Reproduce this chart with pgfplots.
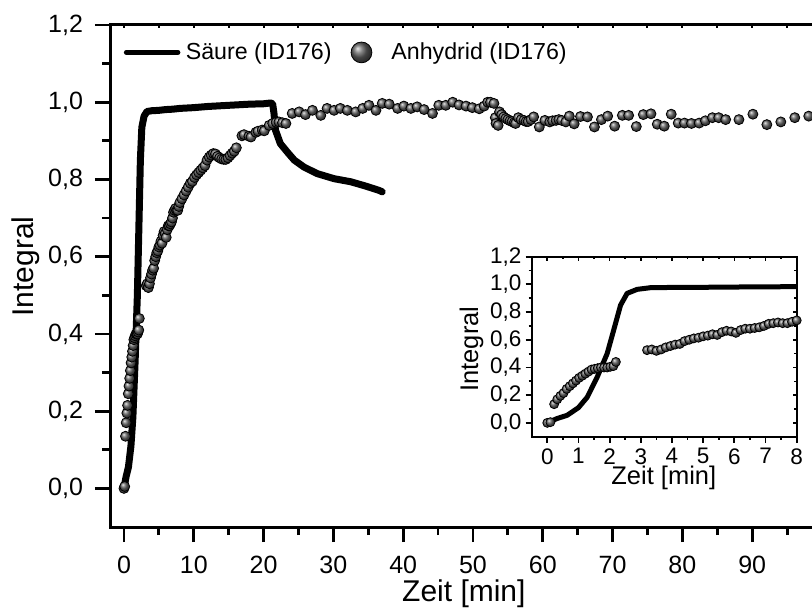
\documentclass[border=0pt]{standalone}
\usepackage{fontspec}
\setmainfont{Liberation Sans}
\usepackage{pgfplots}
\usepackage{pgfplotstable}
\pgfplotsset{compat=1.18}
\pgfplotsset{
  linelegend/.style={legend image code/.code={\path (0pt,0pt) (27.5pt,0pt); \draw[black, line width=2.5pt, line cap=round] (0.5pt,0pt) -- (26.25pt,0pt);}},
  balllegend/.style={legend image code/.code={\path (0pt,0pt) (27.5pt,0pt); \draw[mark repeat=1, mark phase=1, ##1, mark size=5.2pt] plot coordinates {(13.75pt,0pt)};}},
}

\pgfplotstableread{
x y
0 0
0.3 0.03
0.64 0.055
1.0 0.11
1.28 0.185
1.6 0.33
1.92 0.5
2.13 0.67
2.35 0.85
2.56 0.935
2.88 0.964
3.3 0.976
4 0.978
5 0.979
6 0.981
7 0.982
8 0.984
10 0.986
12 0.989
14 0.991
16 0.993
18 0.995
20 0.996
21 0.998
21.3 0.996
21.5 0.97
21.7 0.928
22.4 0.893
23.4 0.871
24.4 0.85
25.8 0.832
27.7 0.815
30.1 0.802
32.5 0.794
34.6 0.783
36.5 0.772
37 0.768
}\saeure

\pgfplotstableread{
x y
0 0.0
0.1 0.005
0.22 0.135
0.32 0.17
0.42 0.195
0.52 0.215
0.62 0.245
0.72 0.265
0.82 0.285
0.92 0.305
1.02 0.325
1.12 0.34
1.22 0.355
1.32 0.37
1.42 0.385
1.52 0.39
1.62 0.395
1.72 0.40
1.82 0.40
1.92 0.40
2.02 0.405
2.12 0.41
2.2 0.44
3.2 0.525
3.35 0.53
3.5 0.52
3.65 0.53
3.8 0.545
3.95 0.555
4.1 0.565
4.25 0.57
4.4 0.59
4.55 0.6
4.7 0.61
4.85 0.615
5.0 0.625
5.15 0.63
5.3 0.64
5.45 0.635
5.6 0.655
5.75 0.665
5.9 0.66
6.05 0.65
6.2 0.67
6.35 0.68
6.5 0.68
6.65 0.685
6.8 0.69
6.95 0.70
7.1 0.715
7.25 0.72
7.4 0.725
7.55 0.72
7.7 0.72
7.85 0.73
8.0 0.74
8.3 0.75
8.6 0.76
8.9 0.77
9.2 0.78
9.5 0.79
9.8 0.795
10.1 0.805
10.4 0.812
10.7 0.818
11.0 0.824
11.3 0.83
11.6 0.836
11.9 0.85
12.2 0.858
12.5 0.863
12.8 0.867
13.1 0.866
13.4 0.86
13.7 0.856
14.0 0.853
14.3 0.852
14.6 0.852
14.9 0.856
15.2 0.862
15.5 0.868
15.8 0.873
16.1 0.882
16.9 0.913
17.2 0.916
17.9 0.912
18.2 0.91
18.9 0.922
19.2 0.925
19.8 0.928
20.1 0.926
20.8 0.94
21.3 0.945
21.8 0.948
22.2 0.949
22.7 0.947
23.2 0.945
24.1 0.971
25.1 0.975
26.0 0.968
27.0 0.979
28.2 0.966
29.1 0.984
30.1 0.979
31.0 0.984
32.0 0.979
33.2 0.975
34.2 0.984
35.1 0.992
36.1 0.979
37.0 0.997
38.0 0.995
39.2 0.984
40.1 0.99
41.1 0.984
42.0 0.988
43.0 0.981
44.2 0.971
45.1 0.992
46.1 0.992
47.1 1.0
48.0 0.993
49.0 0.99
49.9 0.986
50.9 0.983
51.6 0.99
52.1 1.0
52.5 1.0
53.0 0.997
53.2 0.96
53.3 0.945
53.6 0.94
53.8 0.975
54.1 0.968
54.4 0.962
54.7 0.958
55.0 0.955
55.3 0.952
55.6 0.95
55.9 0.947
56.1 0.945
56.5 0.96
56.9 0.955
57.3 0.953
57.6 0.95
57.9 0.95
58.3 0.955
58.7 0.962
59.5 0.936
60.3 0.953
61.0 0.949
61.4 0.952
61.9 0.953
62.3 0.955
62.7 0.953
63.3 0.949
63.8 0.964
64.5 0.944
65.4 0.963
66.4 0.962
67.4 0.936
68.4 0.955
69.3 0.964
70.3 0.938
71.4 0.966
72.3 0.966
73.4 0.937
74.4 0.968
75.5 0.97
76.4 0.943
77.4 0.938
78.4 0.969
79.4 0.946
80.3 0.946
81.3 0.945
82.4 0.946
83.3 0.952
84.3 0.96
85.2 0.96
86.2 0.955
88.1 0.955
90.1 0.969
92.1 0.942
94.1 0.949
96.1 0.96
98.1 0.964
}\anhydrid

\begin{document}
\begin{tikzpicture}
\useasboundingbox (0pt,0pt) rectangle (406pt,-304pt);
% ---------- main axis ----------
\begin{axis}[
  at={(55pt,-263.5pt)}, anchor=south west,
  scale only axis, width=356pt, height=251pt,
  xmin=-2, xmax=100, ymin=-0.1, ymax=1.2,
  axis lines*=left,
  axis line style={line width=1.5pt, line cap=rect},
  tick align=outside,
  major tick length=7.5pt, minor tick length=4pt,
  tick style={line width=1.4pt, black},
  xtick={0,10,20,30,40,50,60,70,80,90},
  minor xtick={5,15,25,35,45,55,65,75,85,95},
  ytick={0,0.2,0.4,0.6,0.8,1.0,1.2},
  minor ytick={0.1,0.3,0.5,0.7,0.9,1.1},
  /pgf/number format/assume math mode=true,
  tick label style={font=\fontsize{12.5}{14}\selectfont},
  yticklabel style={/pgf/number format/.cd, fixed, fixed zerofill, precision=1, use comma, assume math mode=true, /tikz/xshift=-2.5pt},
  xticklabel style={/pgf/number format/assume math mode=true, /tikz/yshift=-3.3pt},
  xlabel={Zeit [min]}, ylabel={Integral},
  label style={font=\fontsize{15}{18}\selectfont},
  xlabel style={at={(axis description cs:0.497,-0.1488)}, anchor=base},
  ylabel style={at={(axis description cs:-0.1077,0.519)}, anchor=base},
  legend columns=2,
  legend cell align=left,
  legend style={at={(axis cs:-0.3,1.129)}, anchor=west, draw=none, fill=none,
    inner sep=0pt, outer sep=0pt,
    nodes={inner xsep=1pt, inner ysep=0pt, font=\fontsize{11.6}{14}\selectfont},
    /tikz/every even column/.append style={column sep=0pt}},
]
\addplot[black, line width=3.5pt, line join=round, line cap=round, linelegend]
  table {\saeure};
\addlegendentry{Säure (ID176)}
\addplot[only marks, mark=ball, mark size=2.5pt, mark options={ball color=black!62, draw=none}, balllegend]
  table {\anhydrid};
\addlegendentry{Anhydrid (ID176)}
\end{axis}
% ---------- top line of main axis ----------
\begin{axis}[
  at={(55pt,-263.5pt)}, anchor=south west,
  scale only axis, width=356pt, height=251pt,
  xmin=-2, xmax=100, ymin=-0.1, ymax=1.2,
  axis x line*=top, axis y line=none,
  axis line style={line width=1.5pt},
  tick align=inside, major tick length=1.5pt,
  tick style={line width=1pt, black},
  xtick={0,5,...,95}, xticklabels={}, ytick=\empty,
]
\addplot[draw=none] coordinates {(0,0)};
\end{axis}
% ---------- inset ----------
\begin{axis}[
  at={(265.85pt,-218.35pt)}, anchor=south west,
  scale only axis, width=132.5pt, height=90pt,
  xmin=-0.5, xmax=8, ymin=-0.1, ymax=1.2,
  axis background/.style={fill=white},
  axis line style={line width=1pt},
  tick align=outside, xtick pos=bottom, ytick pos=left,
  major tick length=3pt, minor tick length=1.6pt,
  tick style={line width=0.9pt, black},
  xtick={0,1,2,3,4,5,6,7,8},
  minor xtick={0.5,1.5,2.5,3.5,4.5,5.5,6.5,7.5},
  ytick={0,0.2,0.4,0.6,0.8,1.0,1.2},
  minor ytick={0.1,0.3,0.5,0.7,0.9,1.1},
  /pgf/number format/assume math mode=true,
  tick label style={font=\fontsize{11.25}{13}\selectfont, inner sep=1pt},
  yticklabel style={/pgf/number format/.cd, fixed, fixed zerofill, precision=1, use comma, assume math mode=true, /tikz/xshift=-1pt},
  xticklabel style={/pgf/number format/assume math mode=true, /tikz/yshift=-1.6pt},
  xlabel={Zeit [min]}, ylabel={Integral},
  label style={font=\fontsize{12.75}{15}\selectfont},
  xlabel style={at={(axis description cs:0.4985,-0.268)}, anchor=base},
  ylabel style={at={(axis description cs:-0.2026,0.487)}, anchor=base},
]
\addplot[black, line width=2.5pt, line join=round, line cap=round] table {\saeure};
\addplot[only marks, mark=ball, mark size=2.25pt, mark options={ball color=black!62, draw=none}] table {\anhydrid};
\end{axis}
\begin{axis}[
  at={(265.85pt,-218.35pt)}, anchor=south west,
  scale only axis, width=132.5pt, height=90pt,
  xmin=-0.5, xmax=8, ymin=-0.1, ymax=1.2,
  axis line style={draw=none},
  tick align=inside, xtick pos=top, ytick pos=right,
  major tick length=2pt, minor tick length=1.2pt,
  tick style={line width=0.8pt, black},
  xtick={0,1,2,3,4,5,6,7,8}, minor xtick={0.5,1.5,2.5,3.5,4.5,5.5,6.5,7.5},
  ytick={0,0.2,0.4,0.6,0.8,1.0,1.2}, minor ytick={0.1,0.3,0.5,0.7,0.9,1.1},
  xticklabels={}, yticklabels={},
]
\addplot[draw=none] coordinates {(0,0)};
\end{axis}
\end{tikzpicture}
\end{document}
